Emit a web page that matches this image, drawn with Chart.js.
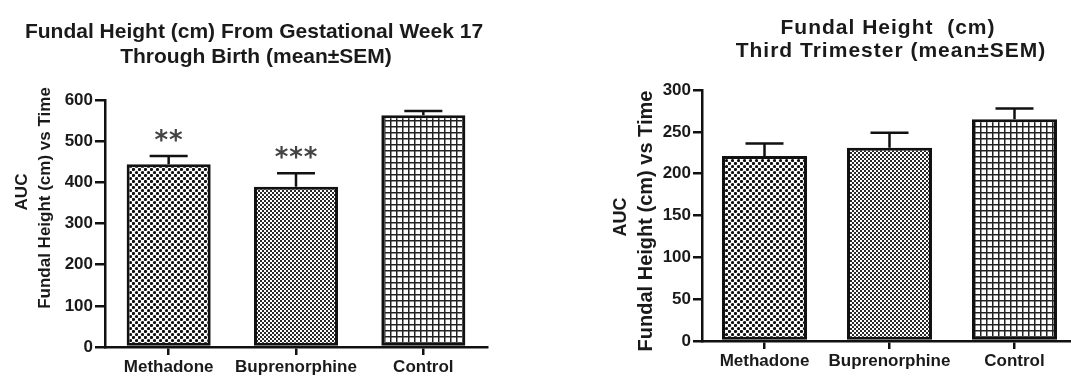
<!DOCTYPE html>
<html>
<head>
<meta charset="utf-8">
<script src="https://cdn.jsdelivr.net/npm/chart.js@4.4.0/dist/chart.umd.min.js"></script>
<style>
html, body { margin: 0; padding: 0; background: #fff; overflow: hidden; }
#wrap { position: relative; width: 1071px; height: 376px; overflow: hidden; }
#leftChart { position: absolute; left: 0; top: 0; }
#rightChart { position: absolute; left: 590px; top: 0; }
</style>
</head>
<body>
<div id="wrap">
    <canvas id="leftChart" width="520" height="376"></canvas>
    <canvas id="rightChart" width="500" height="376"></canvas>
</div>
<script>
const groups = ["Methadone", "Buprenorphine", "Control"];

// AUC from gestational week 17 through birth
const week17Mean = [444, 389, 563];
const week17Sem = [20, 33, 10];
const week17Stars = ["**", "***", ""];
const week17Ticks = [0, 100, 200, 300, 400, 500, 600];

// AUC third trimester
const thirdMean = [221, 231, 265];
const thirdSem = [15, 18, 13];
const thirdStars = ["", "", ""];
const thirdTicks = [0, 50, 100, 150, 200, 250, 300];

const ink = "#1a1a1a";
const fontFamily = "'Liberation Sans', Arial, sans-serif";

Chart.defaults.font.family = fontFamily;
Chart.defaults.color = ink;

function makePattern(size, draw) {
    const c = document.createElement("canvas");
    c.width = size;
    c.height = size;
    const ctx = c.getContext("2d");
    ctx.fillStyle = "#fff";
    ctx.fillRect(0, 0, size, size);
    ctx.fillStyle = "#111";
    draw(ctx);
    return ctx.createPattern(c, "repeat");
}

const dotPattern = makePattern(6, ctx => {
    ctx.beginPath();
    ctx.arc(1.5, 1.5, 1.6, 0, Math.PI * 2);
    ctx.fill();
    ctx.beginPath();
    ctx.arc(4.5, 4.5, 1.6, 0, Math.PI * 2);
    ctx.fill();
});

const finePattern = makePattern(4, ctx => {
    ctx.fillStyle = "#2a2a2a";
    ctx.fillRect(0, 0, 2, 2);
    ctx.fillRect(2, 2, 2, 2);
});

const gridPattern = makePattern(6, ctx => {
    ctx.fillStyle = "#222";
    ctx.fillRect(0, 0, 6, 1.5);
    ctx.fillRect(0, 0, 1.5, 6);
});

const barFills = [dotPattern, finePattern, gridPattern];

function makeErrorBarPlugin(mean, sem, stars) {
    return {
        id: "errorBars",
        afterDatasetsDraw(chart) {
            const ctx = chart.ctx;
            const yScale = chart.scales.y;
            const bars = chart.getDatasetMeta(0).data;

            ctx.save();
            ctx.strokeStyle = "#111";
            ctx.lineWidth = 2.5;

            bars.forEach((bar, i) => {
                const top = yScale.getPixelForValue(mean[i] + sem[i]);

                ctx.beginPath();
                ctx.moveTo(bar.x, bar.y);
                ctx.lineTo(bar.x, top);
                ctx.moveTo(bar.x - 19, top);
                ctx.lineTo(bar.x + 19, top);
                ctx.stroke();

                // significance marks above the error bar
                const marks = stars[i];
                if (marks) {
                    ctx.fillStyle = "#444";
                    ctx.font = "bold 26px 'DejaVu Sans'";
                    ctx.textAlign = "center";
                    ctx.textBaseline = "alphabetic";
                    const pitch = 14.5;
                    const start = bar.x - (marks.length - 1) * pitch / 2;
                    for (let k = 0; k < marks.length; k++) {
                        ctx.fillText("*", start + k * pitch, top - 7);
                    }
                }
            });

            ctx.restore();
        },
    };
}

function makeTextPlugin(items) {
    return {
        id: "textLayer",
        afterDraw(chart) {
            const ctx = chart.ctx;
            items.forEach(item => {
                ctx.save();
                ctx.font = item.font;
                ctx.fillStyle = ink;
                ctx.textAlign = "center";
                ctx.textBaseline = "middle";
                ctx.letterSpacing = item.spacing || "0px";
                ctx.translate(item.x, item.y);
                if (item.rotate) {
                    ctx.rotate(-Math.PI / 2);
                }
                ctx.fillText(item.text, 0, 0);
                ctx.restore();
            });
        },
    };
}

function buildChart(canvas, cfg) {
    return new Chart(canvas, {
        type: "bar",
        data: {
            labels: groups,
            datasets: [
                {
                    data: cfg.mean,
                    backgroundColor: barFills,
                    borderColor: "#111",
                    borderWidth: 3,
                    borderSkipped: false,
                    barPercentage: cfg.barPercentage,
                    categoryPercentage: 1,
                },
            ],
        },
        options: {
            responsive: false,
            animation: false,
            events: [],
            layout: {
                padding: { top: cfg.padTop, right: cfg.padRight, bottom: 0, left: 0 },
            },
            plugins: {
                legend: { display: false },
                tooltip: { enabled: false },
                title: { display: false },
            },
            scales: {
                x: {
                    ticks: {
                        color: ink,
                        font: { size: 17, weight: "bold" },
                        padding: 2,
                        maxRotation: 0,
                        autoSkip: false,
                    },
                    grid: {
                        offset: false,
                        drawOnChartArea: false,
                        drawTicks: true,
                        tickLength: 8,
                        color: "#111",
                        lineWidth: 2.5,
                    },
                    border: { color: "#111", width: 2.5 },
                    afterFit(scale) {
                        scale.height = cfg.xHeight;
                    },
                },
                y: {
                    min: cfg.ticks[0],
                    max: cfg.ticks[cfg.ticks.length - 1],
                    ticks: {
                        stepSize: cfg.ticks[1] - cfg.ticks[0],
                        color: ink,
                        font: { size: 17, weight: "bold" },
                        padding: 2,
                    },
                    grid: {
                        drawOnChartArea: false,
                        drawTicks: true,
                        tickLength: cfg.tickLength,
                        color: "#111",
                        lineWidth: 2.5,
                    },
                    border: { color: "#111", width: 2.5 },
                    afterFit(scale) {
                        scale.width = cfg.yWidth;
                    },
                },
            },
        },
        plugins: [
            makeErrorBarPlugin(cfg.mean, cfg.sem, cfg.stars),
            makeTextPlugin(cfg.texts),
        ],
    });
}

buildChart(document.getElementById("leftChart"), {
    mean: week17Mean,
    sem: week17Sem,
    stars: week17Stars,
    ticks: week17Ticks,
    barPercentage: 0.66,
    padTop: 100,
    padRight: 33,
    xHeight: 29,
    yWidth: 105,
    tickLength: 10,
    texts: [
        { text: "Fundal Height (cm) From Gestational Week 17", x: 254, y: 32, font: "bold 21px " + fontFamily },
        { text: "Through Birth (mean±SEM)", x: 256, y: 57, font: "bold 21px " + fontFamily },
        { text: "AUC", x: 22, y: 192, font: "bold 17px " + fontFamily, rotate: true },
        { text: "Fundal Height (cm) vs Time", x: 45, y: 198, font: "bold 17px " + fontFamily, rotate: true },
    ],
});

buildChart(document.getElementById("rightChart"), {
    mean: thirdMean,
    sem: thirdSem,
    stars: thirdStars,
    ticks: thirdTicks,
    barPercentage: 0.68,
    padTop: 90,
    padRight: 13,
    xHeight: 35,
    yWidth: 112,
    tickLength: 9,
    texts: [
        { text: "Fundal Height  (cm)", x: 298, y: 28, font: "bold 21px " + fontFamily, spacing: "1px" },
        { text: "Third Trimester (mean±SEM)", x: 301, y: 51, font: "bold 21px " + fontFamily, spacing: "1px" },
        { text: "AUC", x: 31, y: 217, font: "bold 18px " + fontFamily, rotate: true },
        { text: "Fundal Height (cm) vs Time", x: 56, y: 221, font: "bold 20px " + fontFamily, rotate: true },
    ],
});
</script>
</body>
</html>
